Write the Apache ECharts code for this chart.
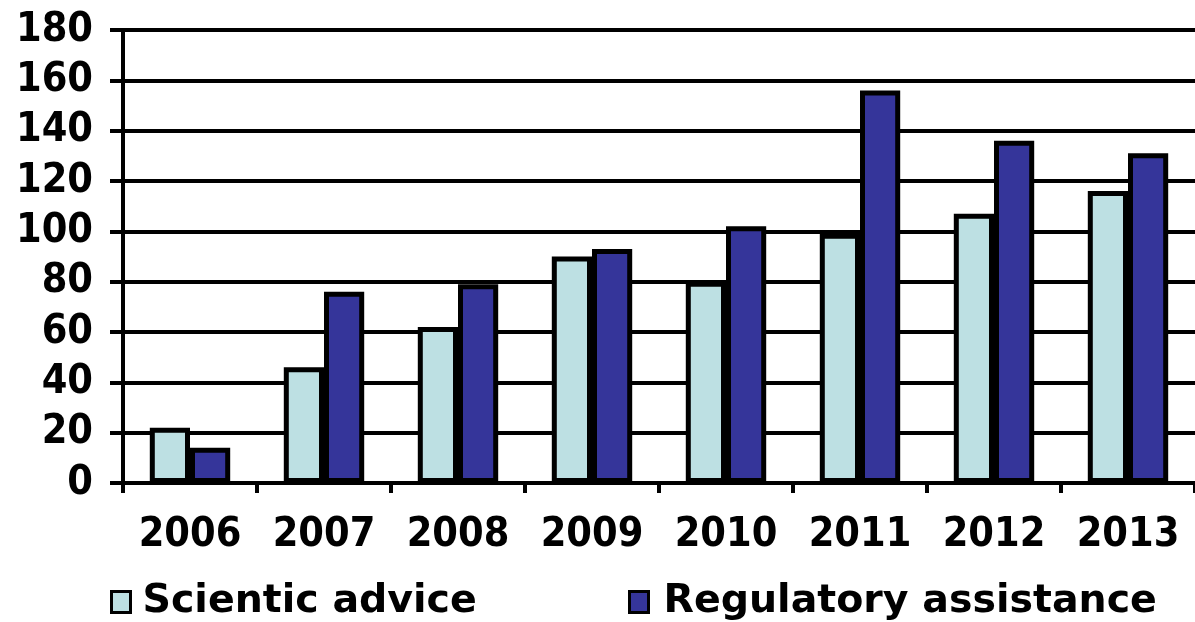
<!DOCTYPE html>
<html>
<head>
<meta charset="utf-8">
<script src="https://cdn.jsdelivr.net/npm/echarts@6/dist/echarts.min.js"></script>
<style>
  html, body { margin: 0; padding: 0; background: #fff; }
  #chart { width: 1195px; height: 622px; }
</style>
</head>
<body>
<div id="chart"></div>
<script>
// Yearly counts of procedures, 2006–2013
const years = ['2006', '2007', '2008', '2009', '2010', '2011', '2012', '2013'];
const scientificAdvice = [22, 46, 62, 90, 80, 99, 107, 116];
const regulatoryAssistance = [14, 76, 79, 93, 102, 156, 136, 131];
const seriesNames = ['Scientic advice', 'Regulatory assistance'];

const AXIS_FONT = '"DejaVu Sans Condensed", "DejaVu Sans", Verdana, sans-serif';
const LEGEND_FONT = '"DejaVu Sans", Verdana, sans-serif';
const AXIS_FONT_SIZE = 41;
const chart = echarts.init(document.getElementById('chart'), null, { renderer: 'canvas' });

function legendItem(name, left, textGap) {
  return {
    data: [name], left: left, top: 582, icon: 'rect',
    itemWidth: 19, itemHeight: 21, padding: 0,
    itemStyle: { borderWidth: 3, borderColor: '#000' },
    textStyle: {
      fontFamily: LEGEND_FONT, fontWeight: 'bold', fontSize: 39.5, color: '#000',
      padding: [0, 0, 0, textGap]
    }
  };
}

chart.setOption({
  backgroundColor: '#ffffff',
  animation: false,
  grid: { left: 123, right: 0, top: 30, bottom: 139, containLabel: false },
  legend: [
    legendItem(seriesNames[0], 110, 7),
    legendItem(seriesNames[1], 628, 10)
  ],
  xAxis: {
    type: 'category',
    data: years,
    axisLine: { lineStyle: { color: '#000', width: 4 } },
    axisTick: { show: true, length: 10, lineStyle: { color: '#000', width: 4 } },
    axisLabel: { fontFamily: AXIS_FONT, fontWeight: 'bold', fontSize: AXIS_FONT_SIZE, color: '#000', margin: 32 },
    splitLine: { show: false }
  },
  yAxis: {
    type: 'value',
    min: 0, max: 180, interval: 20,
    axisLine: { show: true, lineStyle: { color: '#000', width: 4 } },
    axisTick: { show: true, length: 13, lineStyle: { color: '#000', width: 4 } },
    axisLabel: { fontFamily: AXIS_FONT, fontWeight: 'bold', fontSize: AXIS_FONT_SIZE, color: '#000', margin: 30 },
    splitLine: { show: true, lineStyle: { color: '#000', width: 4 } }
  },
  series: [
    {
      name: seriesNames[0], type: 'bar', data: scientificAdvice,
      barCategoryGap: '40%', barGap: '0%',
      itemStyle: { color: '#bde0e3', borderColor: '#000', borderWidth: 5 }
    },
    {
      name: seriesNames[1], type: 'bar', data: regulatoryAssistance,
      barCategoryGap: '40%', barGap: '0%',
      itemStyle: { color: '#35359a', borderColor: '#000', borderWidth: 5 }
    }
  ]
});
</script>
</body>
</html>
